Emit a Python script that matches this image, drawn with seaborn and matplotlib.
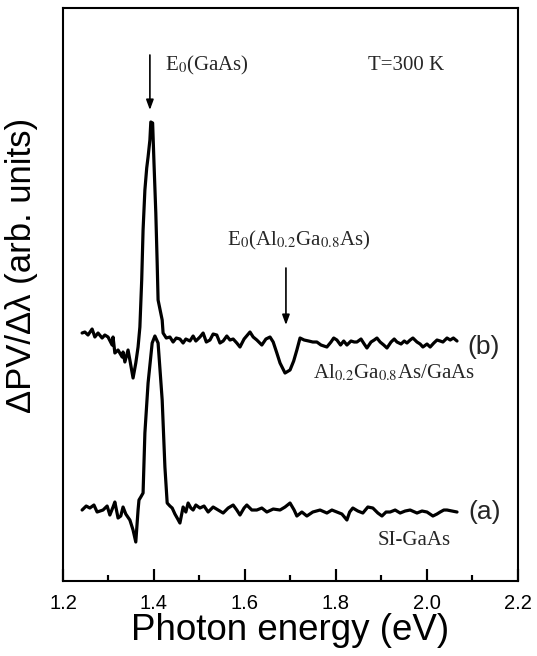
import numpy as np
import pandas as pd
import matplotlib
matplotlib.use("Agg")
import matplotlib.pyplot as plt
import seaborn as sns

# Photovoltage spectra, photon energy (eV) vs dPV/dλ (arb. units, curves offset)
energy_b = [1.242, 1.248, 1.255, 1.264, 1.270, 1.277, 1.286, 1.292, 1.299, 1.308,
            1.310, 1.314, 1.321, 1.330, 1.332, 1.336, 1.343, 1.347, 1.354, 1.360,
            1.365, 1.369, 1.373, 1.376, 1.380, 1.384, 1.387, 1.391, 1.393, 1.397,
            1.400, 1.404, 1.407, 1.409, 1.418, 1.420, 1.427, 1.435, 1.442, 1.449,
            1.457, 1.464, 1.470, 1.479, 1.486, 1.492, 1.501, 1.508, 1.515, 1.523,
            1.530, 1.538, 1.545, 1.552, 1.560, 1.567, 1.574, 1.582, 1.589, 1.598,
            1.611, 1.618, 1.626, 1.637, 1.646, 1.655, 1.662, 1.670, 1.677, 1.688,
            1.699, 1.707, 1.714, 1.721, 1.730, 1.740, 1.749, 1.758, 1.767, 1.780,
            1.789, 1.795, 1.802, 1.810, 1.817, 1.824, 1.833, 1.840, 1.846, 1.855,
            1.862, 1.868, 1.877, 1.884, 1.890, 1.897, 1.905, 1.912, 1.921, 1.928,
            1.934, 1.943, 1.950, 1.956, 1.963, 1.969, 1.978, 1.985, 1.991, 2.000,
            2.007, 2.015, 2.022, 2.029, 2.035, 2.044, 2.051, 2.058, 2.066]
signal_b = [49.6, 49.8, 49.2, 50.4, 48.8, 49.6, 48.6, 49.2, 48.8, 47.2,
            48.8, 45.6, 46.2, 44.8, 45.8, 43.8, 46.2, 44.2, 40.6, 43.6,
            46.8, 50.8, 60.2, 70.2, 78.2, 82.6, 84.8, 88.2, 91.8, 91.6,
            83.6, 73.6, 63.6, 56.2, 52.2, 49.6, 48.6, 48.8, 47.8, 48.6,
            48.4, 47.6, 48.4, 48.0, 49.0, 48.0, 48.8, 49.6, 47.8, 48.2,
            49.4, 49.2, 47.6, 48.0, 49.0, 48.2, 48.4, 47.6, 46.8, 48.4,
            49.8, 48.8, 48.2, 47.2, 48.4, 48.8, 47.8, 45.6, 43.6, 41.6,
            42.2, 44.0, 46.2, 48.6, 48.2, 48.0, 47.8, 47.8, 47.2, 46.8,
            47.8, 48.6, 48.2, 47.2, 48.0, 47.2, 48.0, 47.8, 47.8, 48.4,
            47.4, 46.6, 47.8, 48.2, 48.6, 47.8, 47.2, 46.6, 47.8, 48.4,
            47.8, 47.4, 48.0, 47.6, 48.2, 48.6, 47.8, 47.4, 46.8, 47.4,
            46.8, 47.6, 48.2, 48.0, 47.8, 48.6, 48.2, 48.6, 48.0]

energy_a = [1.242, 1.251, 1.259, 1.268, 1.275, 1.288, 1.297, 1.303, 1.310, 1.314,
            1.321, 1.327, 1.332, 1.338, 1.347, 1.354, 1.360, 1.365, 1.367, 1.371,
            1.376, 1.380, 1.387, 1.396, 1.402, 1.409, 1.418, 1.424, 1.429, 1.435,
            1.440, 1.446, 1.451, 1.457, 1.464, 1.470, 1.475, 1.481, 1.486, 1.492,
            1.501, 1.510, 1.519, 1.530, 1.541, 1.552, 1.563, 1.574, 1.582, 1.589,
            1.598, 1.604, 1.615, 1.626, 1.637, 1.648, 1.662, 1.677, 1.688, 1.699,
            1.708, 1.714, 1.725, 1.736, 1.749, 1.765, 1.780, 1.791, 1.802, 1.813,
            1.824, 1.830, 1.837, 1.848, 1.859, 1.870, 1.881, 1.892, 1.901, 1.910,
            1.919, 1.930, 1.941, 1.952, 1.963, 1.978, 1.989, 2.000, 2.013, 2.022,
            2.029, 2.037, 2.044, 2.055, 2.066]
signal_a = [14.2, 15.0, 14.6, 15.2, 13.8, 14.2, 15.0, 13.2, 14.8, 15.8,
            12.6, 13.0, 14.8, 13.4, 12.2, 10.2, 7.8, 14.2, 16.2, 16.8,
            17.6, 29.6, 39.6, 47.6, 49.0, 47.6, 36.2, 22.8, 15.6, 15.0,
            14.6, 13.4, 12.6, 11.6, 14.8, 13.8, 15.6, 14.6, 14.2, 15.2,
            14.6, 15.0, 13.8, 14.8, 14.2, 13.6, 14.6, 15.2, 14.2, 13.2,
            14.6, 15.2, 14.2, 14.2, 14.6, 13.8, 14.4, 14.2, 14.8, 15.6,
            14.2, 13.0, 13.8, 13.0, 13.8, 14.2, 13.6, 14.2, 13.8, 13.4,
            12.2, 13.8, 14.6, 14.0, 13.6, 14.8, 14.6, 13.6, 13.0, 13.8,
            13.8, 14.2, 13.6, 14.0, 14.2, 13.6, 14.0, 13.8, 13.0, 13.4,
            13.8, 14.2, 14.2, 14.0, 13.8]

xticks = [1.2, 1.4, 1.6, 1.8, 2.0, 2.2]
xticklabels = ["1.2", "1.4", "1.6", "1.8", "2.0", "2.2"]
xminor = [1.3, 1.5, 1.7, 1.9, 2.1]

e0_gaas = 1.391
e0_algaas = 1.690

sns.set_style("ticks")
plt.rcParams["font.family"] = ["Liberation Sans", "DejaVu Sans"]
plt.rcParams["mathtext.fontset"] = "stix"

df = pd.concat([
    pd.DataFrame({"energy": energy_a, "signal": signal_a, "sample": "a"}),
    pd.DataFrame({"energy": energy_b, "signal": signal_b, "sample": "b"}),
], ignore_index=True)

fig = plt.figure(figsize=(5.37, 6.56), dpi=100)
ax = fig.add_axes([0.1173, 0.1143, 0.8473, 0.8735])

sns.lineplot(data=df, x="energy", y="signal", units="sample", estimator=None,
             sort=False, color="black", linewidth=2.3, ax=ax, legend=False)

ax.set_xlim(1.2, 2.2)
ax.set_ylim(0, 114.6)
ax.set_yticks([])
ax.set_xticks(xticks)
ax.set_xticklabels(xticklabels)
ax.set_xticks(xminor, minor=True)
ax.tick_params(axis="x", which="both", bottom=True, direction="in",
               color="black", width=1.5)
ax.tick_params(axis="x", which="major", length=8.5, labelsize=14.5, pad=9,
               labelcolor="black")
ax.tick_params(axis="x", which="minor", length=4.5)
# inward tick marks along the bottom frame, in axes-fraction height
ax.vlines(xticks, 0, 0.021, transform=ax.get_xaxis_transform(),
          colors="black", linewidth=1.5, clip_on=False)
ax.vlines(xminor, 0, 0.0105, transform=ax.get_xaxis_transform(),
          colors="black", linewidth=1.5, clip_on=False)
for s in ax.spines.values():
    s.set_linewidth(1.5)
    s.set_color("black")

ax.set_xlabel("Photon energy (eV)", fontsize=26.5, labelpad=0, color="black")
ax.set_ylabel("ΔPV/Δλ (arb. units)", fontsize=25, color="black")
ax.yaxis.set_label_coords(-0.055, 0.55)

serif = ["Liberation Serif", "DejaVu Serif"]
arrow = dict(arrowstyle="-|>,head_length=0.6,head_width=0.22", color="black",
             lw=1.2, shrinkA=0, shrinkB=0)
ax.annotate("", xy=(e0_gaas, 94.2), xytext=(e0_gaas, 105.2), arrowprops=arrow)
ax.annotate("", xy=(e0_algaas, 51.2), xytext=(e0_algaas, 62.6), arrowprops=arrow)

ax.text(1.424, 103.2, r"E$_0$(GaAs)", family=serif, fontsize=15, va="center")
ax.text(1.870, 103.2, "T=300 K", family=serif, fontsize=15, va="center")
ax.text(1.560, 68.2, r"E$_0$(Al$_{0.2}$Ga$_{0.8}$As)", family=serif, fontsize=15,
        va="center")
ax.text(1.749, 41.6, r"Al$_{0.2}$Ga$_{0.8}$As/GaAs", family=serif, fontsize=15,
        va="center")
ax.text(1.892, 8.2, "SI-GaAs", family=serif, fontsize=15, va="center")
ax.text(2.088, 46.8, "(b)", fontsize=19, va="center")
ax.text(2.090, 13.8, "(a)", fontsize=19, va="center")

fig.savefig("out.png", dpi=100)
